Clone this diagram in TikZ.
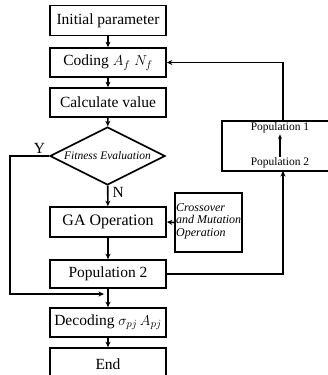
\documentclass[tikz,border=0pt]{standalone}
\usepackage{fontspec}
\setmainfont{Liberation Serif}
\usetikzlibrary{shapes.geometric,arrows.meta}
\begin{document}
\begin{tikzpicture}[x=1pt,y=-1pt,
  every node/.style={font=\fontsize{15.5}{17}\selectfont},
  mainbox/.style={draw,line width=1.7pt,minimum width=116pt,minimum height=30pt,inner sep=0pt},
  conn/.style={line width=1.6pt,-{Stealth[length=5.5pt,width=5pt]}},
  small/.style={font=\fontsize{11.5}{12.5}\selectfont}]
\useasboundingbox (0,0) rectangle (328,375);
\clip (0,0) rectangle (328,375);
\node[mainbox] (init) at (108,20.5) {Initial parameter};
\node[mainbox,minimum height=29pt] (cod) at (108,62.5) {Coding $A_f\ N_f$};
\node[mainbox,minimum height=29pt] (calc) at (108,102.5) {Calculate value};
\node[draw,line width=1.7pt,diamond,shape aspect=2,minimum width=115pt,minimum height=58pt,inner sep=0pt,small] (fit) at (107.5,156) {\itshape Fitness Evaluation};
\node[mainbox,font=\fontsize{16}{18}\selectfont] (ga) at (108,222) {GA Operation};
\node[mainbox,minimum height=28pt] (pop) at (108,274) {Population 2};
\node[mainbox,minimum height=29pt] (dec) at (108,322.5) {Decoding $\sigma_{pj}\,A_{pj}$};
\node[mainbox,minimum height=32pt] (end) at (108,364) {End};
% right box
\node[draw,line width=1.7pt,minimum width=114pt,minimum height=50pt,inner sep=0pt] (rbox) at (279,146) {};
\node[small,inner sep=1pt] (p1) at (280,128) {Population 1};
\node[small,inner sep=1pt] (p2) at (280,163) {Population 2};
\draw[conn,-{Stealth[length=4.5pt,width=4pt]}] (p2.north) -- (p1.south);
% crossover box
\node[draw,line width=1.5pt,minimum width=67pt,minimum height=59pt,inner sep=0pt] (cross) at (208.5,222.5) {};
\node[anchor=west,align=left,inner sep=0pt,font=\fontsize{12}{12.5}\selectfont\itshape] (ctext) at (176,221) {Crossover\\and Mutation\\Operation};
% connectors
\draw[conn] (init) -- (cod);
\draw[conn] (cod) -- (calc);
\draw[conn] (calc) -- (fit);
\draw[conn] (fit) -- node[right,pos=0.35,inner sep=4pt] {N} (ga);
\draw[conn] (ga) -- (pop);
\draw[conn] (pop) -- (dec);
\draw[conn] (dec) -- (end);
\coordinate (yend) at (104,294);
\draw[conn] (fit.west) -- node[above,pos=0.25,inner sep=2pt] {Y} (10,156) -- (10,294) -- (yend);
\draw[conn] (cross.west) -- (ga.east);
\draw[conn] (pop.east) -- (283,274) -- (283,171);
\draw[conn] (283,121) -- (283,62.5) -- (cod.east);
\end{tikzpicture}
\end{document}
